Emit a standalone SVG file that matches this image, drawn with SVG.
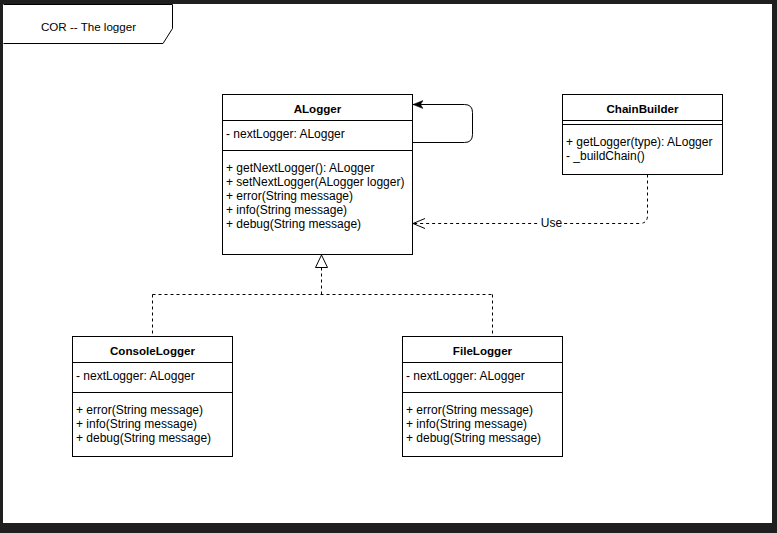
<svg xmlns="http://www.w3.org/2000/svg" width="777" height="533" viewBox="0 0 777 533">
<defs>
<style>
text{font-family:"Liberation Sans",Arial,Helvetica,sans-serif;font-size:12px;fill:#000}
.b{font-weight:bold;text-anchor:middle;font-size:11.6px}
.c{text-anchor:middle}
.t{font-size:11.6px}
.box{fill:#fff;stroke:#000;stroke-width:1}
.ln{stroke:#000;stroke-width:1;fill:none}
.dash{stroke:#000;stroke-width:1;fill:none;stroke-dasharray:3 3}
</style>
<marker id="filled" viewBox="0 0 10 10" refX="10" refY="5" markerWidth="10" markerHeight="10" markerUnits="userSpaceOnUse" orient="auto">
<path d="M0,1 L10,5 L0,9 L2.5,5 Z" fill="#000" stroke="#000" stroke-width="0.5"/>
</marker>
<marker id="open" viewBox="0 0 14 12" refX="13" refY="6" markerWidth="14" markerHeight="12" markerUnits="userSpaceOnUse" orient="auto">
<path d="M1,1 L13,6 L1,11" fill="none" stroke="#000" stroke-width="1"/>
</marker>
</defs>
<rect x="0" y="0" width="777" height="533" fill="#1f1f1f"/>
<rect x="3" y="4" width="769" height="519" fill="#fff"/>

<g id="title">
<path d="M3.5,4.5 H172.5 V28.5 L163,43.5 H3.5" class="ln"/>
<text x="88.5" y="31" class="c t">COR -- The logger</text>
</g>

<g id="connectors">
<path d="M412.5,142.5 H464.5 Q472.5,142.5 472.5,134.5 V112.5 Q472.5,104.5 464.5,104.5 H413" class="ln" marker-end="url(#filled)"/>
<path d="M647.5,174.5 V215.5 Q647.5,223.5 639.5,223.5 H413" class="dash" marker-end="url(#open)"/>
<rect x="539" y="217" width="25" height="12" fill="#fff"/>
<text x="551.5" y="227" class="c">Use</text>
<path d="M321.5,267.5 V294.5 M152.5,294.5 H492.5 M152.5,294.5 V336 M492.5,294.5 V336" class="dash"/>
<path d="M321.5,255 L315.5,267.5 H327.5 Z" fill="#fff" stroke="#000" stroke-width="1"/>
</g>

<g id="ALogger">
<rect x="222.5" y="94.5" width="190" height="160" class="box"/>
<path d="M222.5,120.5 H412.5 M222.5,150.5 H412.5" class="ln"/>
<text x="317.5" y="113" class="b">ALogger</text>
<text x="226" y="138">- nextLogger: ALogger</text>
<text x="226" y="172">+ getNextLogger(): ALogger</text>
<text x="226" y="186">+ setNextLogger(ALogger logger)</text>
<text x="226" y="200">+ error(String message)</text>
<text x="226" y="214">+ info(String message)</text>
<text x="226" y="228">+ debug(String message)</text>
</g>

<g id="ChainBuilder">
<rect x="562.5" y="94.5" width="160" height="80" class="box"/>
<path d="M562.5,120.5 H722.5 M562.5,124.5 H722.5" class="ln"/>
<text x="642.5" y="113" class="b">ChainBuilder</text>
<text x="566" y="146">+ getLogger(type): ALogger</text>
<text x="566" y="160">- _buildChain()</text>
</g>

<g id="ConsoleLogger">
<rect x="72.5" y="336.5" width="160" height="120" class="box"/>
<path d="M72.5,362.5 H232.5 M72.5,392.5 H232.5" class="ln"/>
<text x="152.5" y="355" class="b">ConsoleLogger</text>
<text x="76" y="380">- nextLogger: ALogger</text>
<text x="76" y="414">+ error(String message)</text>
<text x="76" y="428">+ info(String message)</text>
<text x="76" y="442">+ debug(String message)</text>
</g>

<g id="FileLogger">
<rect x="402.5" y="336.5" width="160" height="120" class="box"/>
<path d="M402.5,362.5 H562.5 M402.5,392.5 H562.5" class="ln"/>
<text x="482.5" y="355" class="b">FileLogger</text>
<text x="406" y="380">- nextLogger: ALogger</text>
<text x="406" y="414">+ error(String message)</text>
<text x="406" y="428">+ info(String message)</text>
<text x="406" y="442">+ debug(String message)</text>
</g>
</svg>
